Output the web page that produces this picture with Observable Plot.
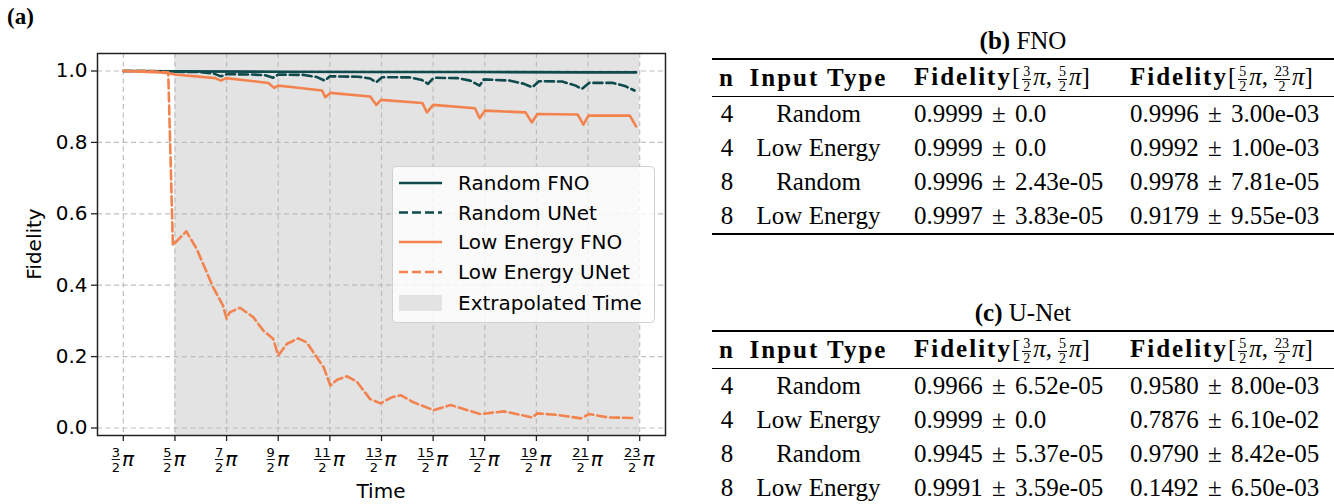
<!DOCTYPE html>
<html><head><meta charset="utf-8">
<script src="https://cdn.jsdelivr.net/npm/d3@7"></script>
<script src="https://cdn.jsdelivr.net/npm/@observablehq/plot@0.6"></script>
<style>
html,body{margin:0;padding:0;background:#fff;}
#page{position:relative;width:1334px;height:504px;overflow:hidden;background:#fff;}
#chart{position:absolute;left:0;top:0;}
#panelA{position:absolute;left:7px;top:4px;font:bold 23px "Liberation Serif",serif;}
#legend{position:absolute;left:392px;top:166px;}
.tblwrap{position:absolute;left:712px;width:622px;font-family:"Liberation Serif",serif;font-size:25px;color:#000;}
.cap{position:absolute;left:0;width:622px;text-align:center;height:30px;line-height:30px;}
.tblwrap table{position:absolute;left:0;width:640px;border-collapse:collapse;table-layout:fixed;}
.tblwrap td,.tblwrap th{padding:0;white-space:nowrap;font-weight:normal;line-height:28px;overflow:visible;}
.tblwrap thead tr{border-top:2px solid #000;border-bottom:1px solid #000;}
.tblwrap thead th{height:36px;}
.tblwrap tbody td{height:34px;}
.tblwrap tbody tr:last-child{border-bottom:2px solid #000;}
.c1{text-align:center;}
.c2{text-align:center;}
.c3{text-align:left;padding-left:19px !important;}
.c4{text-align:left;padding-left:10px !important;}
td.c3,td.c4{word-spacing:3px;}
.hb{font-weight:bold;letter-spacing:2px;}
.fr{display:inline-flex;flex-direction:column;vertical-align:9px;font-size:14px;line-height:14px;text-align:center;margin:0 2px;font-weight:normal;letter-spacing:0;}
.fr span:first-child{border-bottom:1px solid #000;padding:0 1px;}
.sp{margin-left:4px;}
</style></head><body><div id="page">
<div id="chart"></div>
<div id="panelA">(a)</div>
<div id="legend"></div>
<div class="tblwrap" id="tblB"></div>
<div class="tblwrap" id="tblC"></div>
</div>
<script>
// ---------- data (time in units of π) ----------
const randomFnoTime = [1.5, 2.5, 4.5, 6.5, 8.5, 10.5, 11.43];
const randomFnoFid  = [1.0, 0.999, 0.998, 0.997, 0.997, 0.996, 0.996];

const randomUnetTime = [1.5, 2.0, 2.25, 2.37, 2.5, 3.0, 3.25, 3.39, 3.5, 4.0, 4.25, 4.4, 4.5, 5.0, 5.25, 5.4, 5.5,
  6.05, 6.28, 6.4, 6.51, 7.05, 7.28, 7.4, 7.51, 7.97, 8.22, 8.4, 8.48, 8.97, 9.26, 9.42, 9.55, 10.0, 10.26, 10.38, 10.52, 10.98, 11.23, 11.4];
const randomUnetFid  = [1.0, 1.0, 0.999, 0.995, 0.998, 0.997, 0.993, 0.985, 0.991, 0.99, 0.988, 0.981, 0.99, 0.989, 0.983, 0.973, 0.985,
  0.984, 0.979, 0.9686, 0.9826, 0.982, 0.975, 0.964, 0.981, 0.98, 0.973, 0.959, 0.9765, 0.9733, 0.964, 0.9546, 0.9714, 0.9705, 0.959, 0.950, 0.9666, 0.9666, 0.957, 0.9453];

const lowFnoTime = [1.5, 2.2, 2.37, 2.5, 3.28, 3.39, 3.49, 4.31, 4.42, 4.5, 4.75, 5.35, 5.41, 5.51, 6.28, 6.4, 6.49,
  7.29, 7.38, 7.5, 8.31, 8.4, 8.5, 9.29, 9.41, 9.52, 10.3, 10.41, 10.51, 11.31, 11.43];
const lowFnoFid  = [1.0, 0.996, 0.994, 0.99, 0.98, 0.973, 0.98, 0.9666, 0.9527, 0.959, 0.955, 0.9453, 0.9265, 0.9386, 0.9285, 0.905, 0.919,
  0.9105, 0.884, 0.905, 0.8956, 0.8676, 0.889, 0.884, 0.856, 0.8797, 0.878, 0.85, 0.875, 0.875, 0.845];

const lowUnetTime = [1.5, 2.0, 2.37, 2.46, 2.72, 2.92, 3.24, 3.43, 3.5, 3.56, 3.76, 4.02, 4.21, 4.4, 4.5, 4.67, 4.89, 5.05,
  5.38, 5.51, 5.64, 5.83, 6.02, 6.28, 6.48, 6.7, 6.87, 7.12, 7.51, 7.84, 8.09, 8.42, 8.87, 9.2, 9.42, 9.52, 9.91, 10.36, 10.52, 10.88, 11.4];
const lowUnetFid  = [1.0, 1.0, 0.996, 0.512, 0.551, 0.502, 0.394, 0.343, 0.306, 0.324, 0.337, 0.310, 0.273, 0.25, 0.203, 0.236, 0.251, 0.240,
  0.170, 0.119, 0.135, 0.145, 0.13, 0.081, 0.069, 0.086, 0.092, 0.072, 0.05, 0.0645, 0.053, 0.039, 0.0466, 0.0365, 0.0297, 0.041, 0.0365, 0.027, 0.039, 0.0297, 0.028];

const extrapStart = [2.5];
const extrapEnd   = [11.5];

const xTickNumerators = [3, 5, 7, 9, 11, 13, 15, 17, 19, 21, 23]; // ticks at n/2 · π
const yTicks = [0.0, 0.2, 0.4, 0.6, 0.8, 1.0];

const seriesNames = ["Random FNO", "Random UNet", "Low Energy FNO", "Low Energy UNet"];
const extrapLabel = "Extrapolated Time";

// tables
const tableCaptions = [["(b)", "FNO"], ["(c)", "U-Net"]];
const headN = "n", headType = "Input Type";
const fidInterval1 = [[3, 2], [5, 2]];
const fidInterval2 = [[5, 2], [23, 2]];
const rowN    = ["4", "4", "8", "8"];
const rowType = ["Random", "Low Energy", "Random", "Low Energy"];
const fnoFid1  = ["0.9999 ± 0.0", "0.9999 ± 0.0", "0.9996 ± 2.43e-05", "0.9997 ± 3.83e-05"];
const fnoFid2  = ["0.9996 ± 3.00e-03", "0.9992 ± 1.00e-03", "0.9978 ± 7.81e-05", "0.9179 ± 9.55e-03"];
const unetFid1 = ["0.9966 ± 6.52e-05", "0.9999 ± 0.0", "0.9945 ± 5.37e-05", "0.9991 ± 3.59e-05"];
const unetFid2 = ["0.9580 ± 8.00e-03", "0.7876 ± 6.10e-02", "0.9790 ± 8.42e-05", "0.1492 ± 6.50e-03"];

// ---------- styles ----------
const teal = "#0f4a4c", orange = "#f3834e", shade = "#e3e3e3";
const seriesStyle = [
  {color: teal, dash: null}, {color: teal, dash: "9,4"},
  {color: orange, dash: null}, {color: orange, dash: "9,4"}
];
const seriesData = [
  [randomFnoTime, randomFnoFid], [randomUnetTime, randomUnetFid],
  [lowFnoTime, lowFnoFid], [lowUnetTime, lowUnetFid]
];

const extrap = extrapStart.map((s, i) => ({start: s, end: extrapEnd[i]}));
const xTickVals = xTickNumerators.map(n => n / 2);

const lineMarks = seriesData.map(([t, f], k) =>
  Plot.line(t.map((tt, i) => ({t: tt, f: f[i]})), {
    x: "t", y: "f", stroke: seriesStyle[k].color, strokeWidth: 2.6,
    strokeDasharray: seriesStyle[k].dash, strokeLinejoin: "round", curve: "linear"
  })
);

const gridStyle = {stroke: "#b5b5b5", strokeOpacity: 0.85, strokeWidth: 1.2, strokeDasharray: "5,3.5"};

const chart = Plot.plot({
  width: 680, height: 504,
  marginLeft: 97, marginRight: 15, marginTop: 53, marginBottom: 69,
  style: {fontFamily: "DejaVu Sans", fontSize: "20px", color: "#000", background: "transparent", overflow: "visible"},
  x: {domain: [1, 12], label: null},
  y: {domain: [-0.021, 1.049], label: null},
  marks: [
    Plot.rect(extrap, {x1: "start", x2: "end", fill: shade}),
    Plot.gridX(xTickVals, gridStyle),
    Plot.gridY(yTicks, gridStyle),
    Plot.axisX(xTickVals, {tickSize: 6, tickFormat: () => "", stroke: "#222", strokeWidth: 1.3}),
    Plot.axisY(yTicks, {tickSize: 6, tickPadding: 4, tickFormat: d => d.toFixed(1), fontSize: 20, stroke: "#222", strokeWidth: 1.3}),
    ...lineMarks,
    Plot.frame({stroke: "#222", strokeWidth: 1.5})
  ]
});
document.getElementById("chart").appendChild(chart);

// custom fractional tick labels, positioned through Plot's x scale
const xs = chart.scale("x");
const svg = d3.select(chart);
const tg = svg.append("g").attr("font-family", "DejaVu Sans").attr("fill", "#000");
xTickNumerators.forEach(n => {
  const x = xs.apply(n / 2);
  const digits = String(n).length;
  const fw = digits * 8.3;
  const T = fw + 2 + 12;
  const left = x - T / 2;
  const fc = left + fw / 2;
  const t = tg.append("text");
  t.append("tspan").attr("x", fc).attr("y", 456.5).attr("text-anchor", "middle").attr("font-size", 13).text(n);
  t.append("tspan").attr("x", fc).attr("y", 471.5).attr("text-anchor", "middle").attr("font-size", 13).text(2);
  t.append("tspan").attr("x", left + fw + 2).attr("y", 466).attr("text-anchor", "start").attr("font-size", 20).attr("font-style", "italic").text("π");
  tg.append("line").attr("x1", left).attr("x2", left + fw).attr("y1", 459.5).attr("y2", 459.5).attr("stroke", "#000").attr("stroke-width", 0.9);
});
// axis titles
svg.append("text").attr("x", (97 + 665) / 2).attr("y", 498).attr("text-anchor", "middle")
  .attr("font-family", "DejaVu Sans").attr("font-size", 20).text("Time");
svg.append("text").attr("transform", `translate(41,${(53 + 435) / 2}) rotate(-90)`).attr("text-anchor", "middle")
  .attr("font-family", "DejaVu Sans").attr("font-size", 20).text("Fidelity");

// legend
const lg = d3.select("#legend").append("svg").attr("width", 264).attr("height", 158);
lg.append("rect").attr("x", 0.5).attr("y", 0.5).attr("width", 262).attr("height", 156).attr("rx", 4)
  .attr("fill", "rgba(255,255,255,0.8)").attr("stroke", "#d0d0d0");
const rowY = [17, 46.5, 76, 106, 137];
seriesNames.forEach((name, i) => {
  lg.append("line").attr("x1", 7).attr("x2", 50).attr("y1", rowY[i]).attr("y2", rowY[i])
    .attr("stroke", seriesStyle[i].color).attr("stroke-width", 2.6).attr("stroke-dasharray", seriesStyle[i].dash);
  lg.append("text").attr("x", 66).attr("y", rowY[i] + 7).attr("font-family", "DejaVu Sans").attr("font-size", 20).text(name);
});
lg.append("rect").attr("x", 7).attr("y", rowY[4] - 8).attr("width", 43).attr("height", 16).attr("fill", shade);
lg.append("text").attr("x", 66).attr("y", rowY[4] + 7).attr("font-family", "DejaVu Sans").attr("font-size", 20).text(extrapLabel);

// tables
function frac(p) { return `<span class="fr"><span>${p[0]}</span><span>${p[1]}</span></span>`; }
function fidHead(iv) { return `<span class="hb">Fidelity</span>[${frac(iv[0])}<i>π</i>,<span class="sp"></span>${frac(iv[1])}<i>π</i>]`; }
function buildTable(el, cap, fid1, fid2) {
  let h = `<div class="cap" style="top:-32px"><b>${cap[0]}</b> ${cap[1]}</div>`;
  h += `<table style="top:0px"><colgroup><col style="width:30px"><col style="width:153px"><col style="width:225px"><col style="width:232px"></colgroup><thead><tr><th class="c1"><span class="hb">${headN}</span></th><th class="c2"><span class="hb">${headType}</span></th><th class="c3">${fidHead(fidInterval1)}</th><th class="c4">${fidHead(fidInterval2)}</th></tr></thead><tbody>`;
  rowN.forEach((n, i) => {
    h += `<tr><td class="c1">${n}</td><td class="c2">${rowType[i]}</td><td class="c3">${fid1[i]}</td><td class="c4">${fid2[i]}</td></tr>`;
  });
  h += `</tbody></table>`;
  el.innerHTML = h;
}
buildTable(document.getElementById("tblB"), tableCaptions[0], fnoFid1, fnoFid2);
buildTable(document.getElementById("tblC"), tableCaptions[1], unetFid1, unetFid2);
document.getElementById("tblB").style.top = "58px";
document.getElementById("tblC").style.top = "330px";
</script>
</body></html>
